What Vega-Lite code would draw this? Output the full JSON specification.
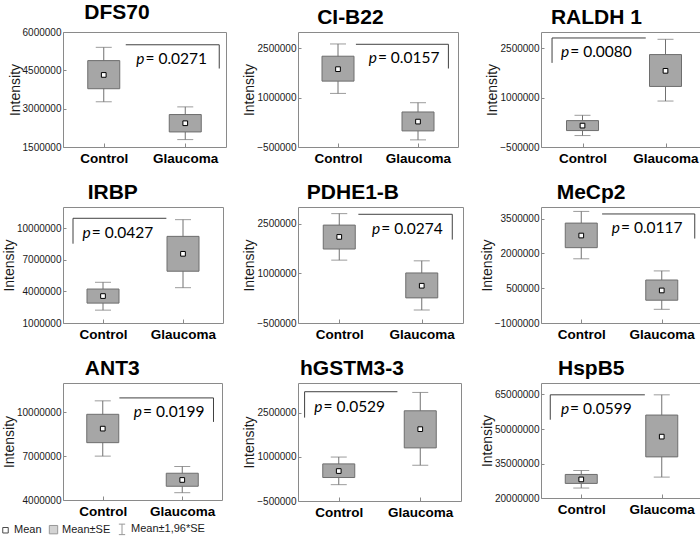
{
 "$schema": "https://vega.github.io/schema/vega-lite/v6.json",
 "background": "white",
 "padding": {"left": 0, "top": 1, "right": 1, "bottom": 1},
 "datasets": {
  "boxes": [
   {"protein": "DFS70", "group": "Control", "lo": 3270000, "q1": 3780000, "mean": 4320000, "q3": 4880000, "hi": 5400000},
   {"protein": "DFS70", "group": "Glaucoma", "lo": 1790000, "q1": 2090000, "mean": 2430000, "q3": 2770000, "hi": 3070000},
   {"protein": "CI-B22", "group": "Control", "lo": 1131000, "q1": 1505000, "mean": 1869000, "q3": 2263000, "hi": 2636000},
   {"protein": "CI-B22", "group": "Glaucoma", "lo": -283000, "q1": -10000, "mean": 273000, "q3": 566000, "hi": 848000},
   {"protein": "RALDH 1", "group": "Control", "lo": -152000, "q1": 0, "mean": 151000, "q3": 303000, "hi": 465000},
   {"protein": "RALDH 1", "group": "Glaucoma", "lo": 899000, "q1": 1343000, "mean": 1818000, "q3": 2313000, "hi": 2778000},
   {"protein": "IRBP", "group": "Control", "lo": 2220000, "q1": 2887000, "mean": 3555000, "q3": 4220000, "hi": 4860000},
   {"protein": "IRBP", "group": "Glaucoma", "lo": 4350000, "q1": 5910000, "mean": 7560000, "q3": 9215000, "hi": 10800000},
   {"protein": "PDHE1-B", "group": "Control", "lo": 1397000, "q1": 1732000, "mean": 2098000, "q3": 2454000, "hi": 2800000},
   {"protein": "PDHE1-B", "group": "Glaucoma", "lo": -108000, "q1": 258000, "mean": 624000, "q3": 1010000, "hi": 1376000},
   {"protein": "MeCp2", "group": "Control", "lo": 1768000, "q1": 2247000, "mean": 2770000, "q3": 3306000, "hi": 3810000},
   {"protein": "MeCp2", "group": "Glaucoma", "lo": -410000, "q1": -18000, "mean": 403000, "q3": 853000, "hi": 1245000},
   {"protein": "ANT3", "group": "Control", "lo": 7000000, "q1": 7920000, "mean": 8880000, "q3": 9860000, "hi": 10780000},
   {"protein": "ANT3", "group": "Glaucoma", "lo": 4500000, "q1": 4940000, "mean": 5370000, "q3": 5830000, "hi": 6290000},
   {"protein": "hGSTM3-3", "group": "Control", "lo": 54000, "q1": 296000, "mean": 515000, "q3": 758000, "hi": 990000},
   {"protein": "hGSTM3-3", "group": "Glaucoma", "lo": 712000, "q1": 1300000, "mean": 1935000, "q3": 2558000, "hi": 3180000},
   {"protein": "HspB5", "group": "Control", "lo": 24330000, "q1": 26350000, "mean": 28080000, "q3": 30240000, "hi": 31970000},
   {"protein": "HspB5", "group": "Glaucoma", "lo": 29090000, "q1": 37880000, "mean": 46680000, "q3": 56060000, "hi": 64860000}
  ],
  "ann": [
   {"protein": "DFS70", "x1": 0.27, "x2": 1.417, "xv": 1.417, "ytop": 5500000, "ybot": 4570000, "xb": 0.5, "yt": 4750000, "p": "= 0.0271"},
   {"protein": "CI-B22", "x1": 0.224, "x2": 1.38, "xv": 1.38, "ytop": 2626000, "ybot": 1889000, "xb": 0.486, "yt": 2060000, "p": "= 0.0157"},
   {"protein": "RALDH 1", "x1": -0.367, "x2": 0.762, "xv": -0.367, "ytop": 2818000, "ybot": 2060000, "xb": -0.16, "yt": 2240000, "p": "= 0.0080"},
   {"protein": "IRBP", "x1": -0.375, "x2": 0.792, "xv": -0.375, "ytop": 10930000, "ybot": 8520000, "xb": -0.154, "yt": 9090000, "p": "= 0.0427"},
   {"protein": "PDHE1-B", "x1": 0.232, "x2": 1.37, "xv": 1.37, "ytop": 2780000, "ybot": 2017000, "xb": 0.496, "yt": 2190000, "p": "= 0.0274"},
   {"protein": "MeCp2", "x1": 0.259, "x2": 1.41, "xv": 1.41, "ytop": 3700000, "ybot": 2640000, "xb": 0.481, "yt": 2885000, "p": "= 0.0117"},
   {"protein": "ANT3", "x1": 0.209, "x2": 1.393, "xv": 1.393, "ytop": 10980000, "ybot": 9340000, "xb": 0.494, "yt": 9680000, "p": "= 0.0199"},
   {"protein": "hGSTM3-3", "x1": -0.419, "x2": 0.72, "xv": -0.419, "ytop": 3204000, "ybot": 2327000, "xb": -0.199, "yt": 2523000, "p": "= 0.0529"},
   {"protein": "HspB5", "x1": -0.385, "x2": 0.79, "xv": -0.385, "ytop": 64860000, "ybot": 54040000, "xb": -0.151, "yt": 56490000, "p": "= 0.0599"}
  ]
 },
 "config": {
  "font": "Liberation Sans",
  "view": {"stroke": "#8a8a8a", "strokeWidth": 1},
  "axis": {"domain": false, "grid": false, "labelColor": "#1a1a1a", "tickColor": "#8a8a8a", "titleColor": "#1a1a1a"},
  "axisY": {"labelFontSize": 10, "labelOverlap": false, "tickCount": 10, "titleFontSize": 14, "titleFontWeight": "normal", "titlePadding": 0, "tickSize": -3, "labelPadding": 5},
  "axisX": {"labelFontSize": 13.5, "labelFontWeight": "bold", "labelColor": "#000", "tickSize": -4, "labelPadding": 8, "title": null, "labelAngle": 0},
  "title": {"fontSize": 21, "fontWeight": "bold", "frame": "bounds", "anchor": "middle", "offset": 0, "color": "#000"},
  "legend": {"orient": "none", "legendX": -63, "legendY": 491, "direction": "horizontal", "title": null, "labelFontSize": 11, "labelColor": "#1a1a1a", "symbolStrokeWidth": 1, "columnPadding": 5, "labelOffset": 3, "padding": 0}
 },
 "columns": 3,
 "spacing": {"row": 16, "column": 15},
 "concat": [
  {"title": "DFS70", "width": 163, "height": 115, "resolve": {"scale": {"x": "independent"}},
   "layer": [
    {"data": {"name": "boxes"}, "transform": [{"filter": "datum.protein === 'DFS70'"}],
     "encoding": {"x": {"field": "group", "type": "nominal", "scale": {"type": "point", "padding": 0.5, "domain": ["Control", "Glaucoma"]}}},
     "layer": [
      {"mark": {"type": "errorbar", "ticks": {"size": 16, "color": "#707070"}, "rule": {"color": "#707070"}},
       "encoding": {"y": {"field": "lo", "type": "quantitative", "title": "Intensity", "scale": {"domain": [1500000, 6000000], "nice": false, "zero": false}, "axis": {"values": [1500000, 3000000, 4500000, 6000000], "tickCount": 10, "format": "d"}}, "y2": {"field": "hi"}}},
      {"mark": {"type": "bar", "size": 32, "fill": "#a6a6a6", "stroke": "#6e6e6e", "strokeWidth": 1},
       "encoding": {"y": {"field": "q1", "type": "quantitative", "title": "Intensity"}, "y2": {"field": "q3"}}},
      {"mark": {"type": "point", "shape": "square", "size": 22, "filled": true, "fill": "white", "stroke": "#000", "strokeWidth": 1, "opacity": 1},
       "encoding": {"y": {"field": "mean", "type": "quantitative", "title": "Intensity"}}}
     ]},
    {"data": {"name": "ann"}, "transform": [{"filter": "datum.protein === 'DFS70'"}],
     "layer": [
      {"mark": {"type": "rule", "color": "#404040"}, "encoding": {"x": {"field": "x1", "type": "quantitative", "scale": {"domain": [-0.5, 1.5], "nice": false, "zero": false}, "axis": null}, "x2": {"field": "x2"}, "y": {"field": "ytop", "type": "quantitative", "title": "Intensity"}}},
      {"mark": {"type": "rule", "color": "#404040"}, "encoding": {"x": {"field": "xv", "type": "quantitative", "axis": null}, "y": {"field": "ytop", "type": "quantitative", "title": "Intensity"}, "y2": {"field": "ybot"}}},
      {"mark": {"type": "text", "font": "Lato", "fontSize": 15.5, "fontStyle": "italic", "align": "right", "baseline": "alphabetic"}, "encoding": {"x": {"field": "xb", "type": "quantitative", "axis": null}, "y": {"field": "yt", "type": "quantitative", "title": "Intensity"}, "text": {"value": "p"}}},
      {"mark": {"type": "text", "font": "Lato", "fontSize": 15.5, "align": "left", "baseline": "alphabetic", "dx": 1}, "encoding": {"x": {"field": "xb", "type": "quantitative", "axis": null}, "y": {"field": "yt", "type": "quantitative", "title": "Intensity"}, "text": {"field": "p"}}}
     ]}
   ]},
  {"title": "CI-B22", "width": 160, "height": 115, "resolve": {"scale": {"x": "independent"}},
   "layer": [
    {"data": {"name": "boxes"}, "transform": [{"filter": "datum.protein === 'CI-B22'"}],
     "encoding": {"x": {"field": "group", "type": "nominal", "scale": {"type": "point", "padding": 0.5, "domain": ["Control", "Glaucoma"]}}},
     "layer": [
      {"mark": {"type": "errorbar", "ticks": {"size": 16, "color": "#707070"}, "rule": {"color": "#707070"}},
       "encoding": {"y": {"field": "lo", "type": "quantitative", "title": "Intensity", "scale": {"domain": [-500000, 3000000], "nice": false, "zero": false}, "axis": {"values": [-500000, 1000000, 2500000], "tickCount": 10, "format": "d"}}, "y2": {"field": "hi"}}},
      {"mark": {"type": "bar", "size": 32, "fill": "#a6a6a6", "stroke": "#6e6e6e", "strokeWidth": 1},
       "encoding": {"y": {"field": "q1", "type": "quantitative", "title": "Intensity"}, "y2": {"field": "q3"}}},
      {"mark": {"type": "point", "shape": "square", "size": 22, "filled": true, "fill": "white", "stroke": "#000", "strokeWidth": 1, "opacity": 1},
       "encoding": {"y": {"field": "mean", "type": "quantitative", "title": "Intensity"}}}
     ]},
    {"data": {"name": "ann"}, "transform": [{"filter": "datum.protein === 'CI-B22'"}],
     "layer": [
      {"mark": {"type": "rule", "color": "#404040"}, "encoding": {"x": {"field": "x1", "type": "quantitative", "scale": {"domain": [-0.5, 1.5], "nice": false, "zero": false}, "axis": null}, "x2": {"field": "x2"}, "y": {"field": "ytop", "type": "quantitative", "title": "Intensity"}}},
      {"mark": {"type": "rule", "color": "#404040"}, "encoding": {"x": {"field": "xv", "type": "quantitative", "axis": null}, "y": {"field": "ytop", "type": "quantitative", "title": "Intensity"}, "y2": {"field": "ybot"}}},
      {"mark": {"type": "text", "font": "Lato", "fontSize": 15.5, "fontStyle": "italic", "align": "right", "baseline": "alphabetic"}, "encoding": {"x": {"field": "xb", "type": "quantitative", "axis": null}, "y": {"field": "yt", "type": "quantitative", "title": "Intensity"}, "text": {"value": "p"}}},
      {"mark": {"type": "text", "font": "Lato", "fontSize": 15.5, "align": "left", "baseline": "alphabetic", "dx": 1}, "encoding": {"x": {"field": "xb", "type": "quantitative", "axis": null}, "y": {"field": "yt", "type": "quantitative", "title": "Intensity"}, "text": {"field": "p"}}}
     ]}
   ]},
  {"title": "RALDH 1", "width": 166, "height": 115, "resolve": {"scale": {"x": "independent"}},
   "layer": [
    {"data": {"name": "boxes"}, "transform": [{"filter": "datum.protein === 'RALDH 1'"}],
     "encoding": {"x": {"field": "group", "type": "nominal", "scale": {"type": "point", "padding": 0.5, "domain": ["Control", "Glaucoma"]}}},
     "layer": [
      {"mark": {"type": "errorbar", "ticks": {"size": 16, "color": "#707070"}, "rule": {"color": "#707070"}},
       "encoding": {"y": {"field": "lo", "type": "quantitative", "title": "Intensity", "scale": {"domain": [-500000, 3000000], "nice": false, "zero": false}, "axis": {"values": [-500000, 1000000, 2500000], "tickCount": 10, "format": "d"}}, "y2": {"field": "hi"}}},
      {"mark": {"type": "bar", "size": 32, "fill": "#a6a6a6", "stroke": "#6e6e6e", "strokeWidth": 1},
       "encoding": {"y": {"field": "q1", "type": "quantitative", "title": "Intensity"}, "y2": {"field": "q3"}}},
      {"mark": {"type": "point", "shape": "square", "size": 22, "filled": true, "fill": "white", "stroke": "#000", "strokeWidth": 1, "opacity": 1},
       "encoding": {"y": {"field": "mean", "type": "quantitative", "title": "Intensity"}}}
     ]},
    {"data": {"name": "ann"}, "transform": [{"filter": "datum.protein === 'RALDH 1'"}],
     "layer": [
      {"mark": {"type": "rule", "color": "#404040"}, "encoding": {"x": {"field": "x1", "type": "quantitative", "scale": {"domain": [-0.5, 1.5], "nice": false, "zero": false}, "axis": null}, "x2": {"field": "x2"}, "y": {"field": "ytop", "type": "quantitative", "title": "Intensity"}}},
      {"mark": {"type": "rule", "color": "#404040"}, "encoding": {"x": {"field": "xv", "type": "quantitative", "axis": null}, "y": {"field": "ytop", "type": "quantitative", "title": "Intensity"}, "y2": {"field": "ybot"}}},
      {"mark": {"type": "text", "font": "Lato", "fontSize": 15.5, "fontStyle": "italic", "align": "right", "baseline": "alphabetic"}, "encoding": {"x": {"field": "xb", "type": "quantitative", "axis": null}, "y": {"field": "yt", "type": "quantitative", "title": "Intensity"}, "text": {"value": "p"}}},
      {"mark": {"type": "text", "font": "Lato", "fontSize": 15.5, "align": "left", "baseline": "alphabetic", "dx": 1}, "encoding": {"x": {"field": "xb", "type": "quantitative", "axis": null}, "y": {"field": "yt", "type": "quantitative", "title": "Intensity"}, "text": {"field": "p"}}}
     ]}
   ]},
  {"title": "IRBP", "width": 160, "height": 116, "resolve": {"scale": {"x": "independent"}},
   "layer": [
    {"data": {"name": "boxes"}, "transform": [{"filter": "datum.protein === 'IRBP'"}],
     "encoding": {"x": {"field": "group", "type": "nominal", "scale": {"type": "point", "padding": 0.5, "domain": ["Control", "Glaucoma"]}}},
     "layer": [
      {"mark": {"type": "errorbar", "ticks": {"size": 16, "color": "#707070"}, "rule": {"color": "#707070"}},
       "encoding": {"y": {"field": "lo", "type": "quantitative", "title": "Intensity", "scale": {"domain": [1000000, 12000000], "nice": false, "zero": false}, "axis": {"values": [1000000, 4000000, 7000000, 10000000], "tickCount": 10, "format": "d"}}, "y2": {"field": "hi"}}},
      {"mark": {"type": "bar", "size": 32, "fill": "#a6a6a6", "stroke": "#6e6e6e", "strokeWidth": 1},
       "encoding": {"y": {"field": "q1", "type": "quantitative", "title": "Intensity"}, "y2": {"field": "q3"}}},
      {"mark": {"type": "point", "shape": "square", "size": 22, "filled": true, "fill": "white", "stroke": "#000", "strokeWidth": 1, "opacity": 1},
       "encoding": {"y": {"field": "mean", "type": "quantitative", "title": "Intensity"}}}
     ]},
    {"data": {"name": "ann"}, "transform": [{"filter": "datum.protein === 'IRBP'"}],
     "layer": [
      {"mark": {"type": "rule", "color": "#404040"}, "encoding": {"x": {"field": "x1", "type": "quantitative", "scale": {"domain": [-0.5, 1.5], "nice": false, "zero": false}, "axis": null}, "x2": {"field": "x2"}, "y": {"field": "ytop", "type": "quantitative", "title": "Intensity"}}},
      {"mark": {"type": "rule", "color": "#404040"}, "encoding": {"x": {"field": "xv", "type": "quantitative", "axis": null}, "y": {"field": "ytop", "type": "quantitative", "title": "Intensity"}, "y2": {"field": "ybot"}}},
      {"mark": {"type": "text", "font": "Lato", "fontSize": 15.5, "fontStyle": "italic", "align": "right", "baseline": "alphabetic"}, "encoding": {"x": {"field": "xb", "type": "quantitative", "axis": null}, "y": {"field": "yt", "type": "quantitative", "title": "Intensity"}, "text": {"value": "p"}}},
      {"mark": {"type": "text", "font": "Lato", "fontSize": 15.5, "align": "left", "baseline": "alphabetic", "dx": 1}, "encoding": {"x": {"field": "xb", "type": "quantitative", "axis": null}, "y": {"field": "yt", "type": "quantitative", "title": "Intensity"}, "text": {"field": "p"}}}
     ]}
   ]},
  {"title": "PDHE1-B", "width": 165, "height": 116, "resolve": {"scale": {"x": "independent"}},
   "layer": [
    {"data": {"name": "boxes"}, "transform": [{"filter": "datum.protein === 'PDHE1-B'"}],
     "encoding": {"x": {"field": "group", "type": "nominal", "scale": {"type": "point", "padding": 0.5, "domain": ["Control", "Glaucoma"]}}},
     "layer": [
      {"mark": {"type": "errorbar", "ticks": {"size": 16, "color": "#707070"}, "rule": {"color": "#707070"}},
       "encoding": {"y": {"field": "lo", "type": "quantitative", "title": "Intensity", "scale": {"domain": [-500000, 3000000], "nice": false, "zero": false}, "axis": {"values": [-500000, 1000000, 2500000], "tickCount": 10, "format": "d"}}, "y2": {"field": "hi"}}},
      {"mark": {"type": "bar", "size": 32, "fill": "#a6a6a6", "stroke": "#6e6e6e", "strokeWidth": 1},
       "encoding": {"y": {"field": "q1", "type": "quantitative", "title": "Intensity"}, "y2": {"field": "q3"}}},
      {"mark": {"type": "point", "shape": "square", "size": 22, "filled": true, "fill": "white", "stroke": "#000", "strokeWidth": 1, "opacity": 1},
       "encoding": {"y": {"field": "mean", "type": "quantitative", "title": "Intensity"}}}
     ]},
    {"data": {"name": "ann"}, "transform": [{"filter": "datum.protein === 'PDHE1-B'"}],
     "layer": [
      {"mark": {"type": "rule", "color": "#404040"}, "encoding": {"x": {"field": "x1", "type": "quantitative", "scale": {"domain": [-0.5, 1.5], "nice": false, "zero": false}, "axis": null}, "x2": {"field": "x2"}, "y": {"field": "ytop", "type": "quantitative", "title": "Intensity"}}},
      {"mark": {"type": "rule", "color": "#404040"}, "encoding": {"x": {"field": "xv", "type": "quantitative", "axis": null}, "y": {"field": "ytop", "type": "quantitative", "title": "Intensity"}, "y2": {"field": "ybot"}}},
      {"mark": {"type": "text", "font": "Lato", "fontSize": 15.5, "fontStyle": "italic", "align": "right", "baseline": "alphabetic"}, "encoding": {"x": {"field": "xb", "type": "quantitative", "axis": null}, "y": {"field": "yt", "type": "quantitative", "title": "Intensity"}, "text": {"value": "p"}}},
      {"mark": {"type": "text", "font": "Lato", "fontSize": 15.5, "align": "left", "baseline": "alphabetic", "dx": 1}, "encoding": {"x": {"field": "xb", "type": "quantitative", "axis": null}, "y": {"field": "yt", "type": "quantitative", "title": "Intensity"}, "text": {"field": "p"}}}
     ]}
   ]},
  {"title": "MeCp2", "width": 161, "height": 116, "resolve": {"scale": {"x": "independent"}},
   "layer": [
    {"data": {"name": "boxes"}, "transform": [{"filter": "datum.protein === 'MeCp2'"}],
     "encoding": {"x": {"field": "group", "type": "nominal", "scale": {"type": "point", "padding": 0.5, "domain": ["Control", "Glaucoma"]}}},
     "layer": [
      {"mark": {"type": "errorbar", "ticks": {"size": 16, "color": "#707070"}, "rule": {"color": "#707070"}},
       "encoding": {"y": {"field": "lo", "type": "quantitative", "title": "Intensity", "scale": {"domain": [-1000000, 4000000], "nice": false, "zero": false}, "axis": {"values": [-1000000, 500000, 2000000, 3500000], "tickCount": 10, "format": "d"}}, "y2": {"field": "hi"}}},
      {"mark": {"type": "bar", "size": 32, "fill": "#a6a6a6", "stroke": "#6e6e6e", "strokeWidth": 1},
       "encoding": {"y": {"field": "q1", "type": "quantitative", "title": "Intensity"}, "y2": {"field": "q3"}}},
      {"mark": {"type": "point", "shape": "square", "size": 22, "filled": true, "fill": "white", "stroke": "#000", "strokeWidth": 1, "opacity": 1},
       "encoding": {"y": {"field": "mean", "type": "quantitative", "title": "Intensity"}}}
     ]},
    {"data": {"name": "ann"}, "transform": [{"filter": "datum.protein === 'MeCp2'"}],
     "layer": [
      {"mark": {"type": "rule", "color": "#404040"}, "encoding": {"x": {"field": "x1", "type": "quantitative", "scale": {"domain": [-0.5, 1.5], "nice": false, "zero": false}, "axis": null}, "x2": {"field": "x2"}, "y": {"field": "ytop", "type": "quantitative", "title": "Intensity"}}},
      {"mark": {"type": "rule", "color": "#404040"}, "encoding": {"x": {"field": "xv", "type": "quantitative", "axis": null}, "y": {"field": "ytop", "type": "quantitative", "title": "Intensity"}, "y2": {"field": "ybot"}}},
      {"mark": {"type": "text", "font": "Lato", "fontSize": 15.5, "fontStyle": "italic", "align": "right", "baseline": "alphabetic"}, "encoding": {"x": {"field": "xb", "type": "quantitative", "axis": null}, "y": {"field": "yt", "type": "quantitative", "title": "Intensity"}, "text": {"value": "p"}}},
      {"mark": {"type": "text", "font": "Lato", "fontSize": 15.5, "align": "left", "baseline": "alphabetic", "dx": 1}, "encoding": {"x": {"field": "xb", "type": "quantitative", "axis": null}, "y": {"field": "yt", "type": "quantitative", "title": "Intensity"}, "text": {"field": "p"}}}
     ]}
   ]},
  {"title": "ANT3", "width": 159, "height": 117, "resolve": {"scale": {"x": "independent"}},
   "layer": [
    {"data": {"name": "boxes"}, "transform": [{"filter": "datum.protein === 'ANT3'"}],
     "encoding": {"x": {"field": "group", "type": "nominal", "scale": {"type": "point", "padding": 0.5, "domain": ["Control", "Glaucoma"]}}},
     "layer": [
      {"mark": {"type": "errorbar", "ticks": {"size": 16, "color": "#707070"}, "rule": {"color": "#707070"}},
       "encoding": {"y": {"field": "lo", "type": "quantitative", "title": "Intensity", "scale": {"domain": [4000000, 12000000], "nice": false, "zero": false}, "axis": {"values": [4000000, 7000000, 10000000], "tickCount": 10, "format": "d"}}, "y2": {"field": "hi"}}},
      {"mark": {"type": "bar", "size": 32, "fill": "#a6a6a6", "stroke": "#6e6e6e", "strokeWidth": 1},
       "encoding": {"y": {"field": "q1", "type": "quantitative", "title": "Intensity"}, "y2": {"field": "q3"}}},
      {"mark": {"type": "point", "shape": "square", "size": 22, "filled": true, "fill": "white", "stroke": "#000", "strokeWidth": 1, "opacity": 1},
       "encoding": {"y": {"field": "mean", "type": "quantitative", "title": "Intensity"}}}
     ]},
    {"data": {"name": "ann"}, "transform": [{"filter": "datum.protein === 'ANT3'"}],
     "layer": [
      {"mark": {"type": "rule", "color": "#404040"}, "encoding": {"x": {"field": "x1", "type": "quantitative", "scale": {"domain": [-0.5, 1.5], "nice": false, "zero": false}, "axis": null}, "x2": {"field": "x2"}, "y": {"field": "ytop", "type": "quantitative", "title": "Intensity"}}},
      {"mark": {"type": "rule", "color": "#404040"}, "encoding": {"x": {"field": "xv", "type": "quantitative", "axis": null}, "y": {"field": "ytop", "type": "quantitative", "title": "Intensity"}, "y2": {"field": "ybot"}}},
      {"mark": {"type": "text", "font": "Lato", "fontSize": 15.5, "fontStyle": "italic", "align": "right", "baseline": "alphabetic"}, "encoding": {"x": {"field": "xb", "type": "quantitative", "axis": null}, "y": {"field": "yt", "type": "quantitative", "title": "Intensity"}, "text": {"value": "p"}}},
      {"mark": {"type": "text", "font": "Lato", "fontSize": 15.5, "align": "left", "baseline": "alphabetic", "dx": 1}, "encoding": {"x": {"field": "xb", "type": "quantitative", "axis": null}, "y": {"field": "yt", "type": "quantitative", "title": "Intensity"}, "text": {"field": "p"}}}
     ]},
    {"data": {"values": [{"item": "Mean"}, {"item": "Mean±SE"}, {"item": "Mean±1,96*SE"}]}, "transform": [{"filter": "false"}],
     "mark": {"type": "point", "filled": false, "strokeWidth": 1},
     "encoding": {
      "shape": {"field": "item", "type": "nominal", "scale": {"domain": ["Mean", "Mean±SE", "Mean±1,96*SE"], "range": ["square", "square", "M-0.6,-1H0.6M0,-1V1M-0.6,1H0.6"]}, "legend": {"title": null}},
      "fill": {"field": "item", "type": "nominal", "scale": {"domain": ["Mean", "Mean±SE", "Mean±1,96*SE"], "range": ["white", "#a6a6a6", "transparent"]}, "legend": {"title": null}},
      "stroke": {"field": "item", "type": "nominal", "scale": {"domain": ["Mean", "Mean±SE", "Mean±1,96*SE"], "range": ["#000", "#6e6e6e", "#6e6e6e"]}, "legend": {"title": null}},
      "size": {"field": "item", "type": "nominal", "scale": {"domain": ["Mean", "Mean±SE", "Mean±1,96*SE"], "range": [30, 110, 110]}, "legend": {"title": null}}
     }}
   ]},
  {"title": "hGSTM3-3", "width": 163, "height": 118, "resolve": {"scale": {"x": "independent"}},
   "layer": [
    {"data": {"name": "boxes"}, "transform": [{"filter": "datum.protein === 'hGSTM3-3'"}],
     "encoding": {"x": {"field": "group", "type": "nominal", "scale": {"type": "point", "padding": 0.5, "domain": ["Control", "Glaucoma"]}}},
     "layer": [
      {"mark": {"type": "errorbar", "ticks": {"size": 16, "color": "#707070"}, "rule": {"color": "#707070"}},
       "encoding": {"y": {"field": "lo", "type": "quantitative", "title": "Intensity", "scale": {"domain": [-500000, 3500000], "nice": false, "zero": false}, "axis": {"values": [-500000, 1000000, 2500000], "tickCount": 10, "format": "d"}}, "y2": {"field": "hi"}}},
      {"mark": {"type": "bar", "size": 32, "fill": "#a6a6a6", "stroke": "#6e6e6e", "strokeWidth": 1},
       "encoding": {"y": {"field": "q1", "type": "quantitative", "title": "Intensity"}, "y2": {"field": "q3"}}},
      {"mark": {"type": "point", "shape": "square", "size": 22, "filled": true, "fill": "white", "stroke": "#000", "strokeWidth": 1, "opacity": 1},
       "encoding": {"y": {"field": "mean", "type": "quantitative", "title": "Intensity"}}}
     ]},
    {"data": {"name": "ann"}, "transform": [{"filter": "datum.protein === 'hGSTM3-3'"}],
     "layer": [
      {"mark": {"type": "rule", "color": "#404040"}, "encoding": {"x": {"field": "x1", "type": "quantitative", "scale": {"domain": [-0.5, 1.5], "nice": false, "zero": false}, "axis": null}, "x2": {"field": "x2"}, "y": {"field": "ytop", "type": "quantitative", "title": "Intensity"}}},
      {"mark": {"type": "rule", "color": "#404040"}, "encoding": {"x": {"field": "xv", "type": "quantitative", "axis": null}, "y": {"field": "ytop", "type": "quantitative", "title": "Intensity"}, "y2": {"field": "ybot"}}},
      {"mark": {"type": "text", "font": "Lato", "fontSize": 15.5, "fontStyle": "italic", "align": "right", "baseline": "alphabetic"}, "encoding": {"x": {"field": "xb", "type": "quantitative", "axis": null}, "y": {"field": "yt", "type": "quantitative", "title": "Intensity"}, "text": {"value": "p"}}},
      {"mark": {"type": "text", "font": "Lato", "fontSize": 15.5, "align": "left", "baseline": "alphabetic", "dx": 1}, "encoding": {"x": {"field": "xb", "type": "quantitative", "axis": null}, "y": {"field": "yt", "type": "quantitative", "title": "Intensity"}, "text": {"field": "p"}}}
     ]}
   ]},
  {"title": "HspB5", "width": 161, "height": 115, "resolve": {"scale": {"x": "independent"}},
   "layer": [
    {"data": {"name": "boxes"}, "transform": [{"filter": "datum.protein === 'HspB5'"}],
     "encoding": {"x": {"field": "group", "type": "nominal", "scale": {"type": "point", "padding": 0.5, "domain": ["Control", "Glaucoma"]}}},
     "layer": [
      {"mark": {"type": "errorbar", "ticks": {"size": 16, "color": "#707070"}, "rule": {"color": "#707070"}},
       "encoding": {"y": {"field": "lo", "type": "quantitative", "title": "Intensity", "scale": {"domain": [20000000, 70000000], "nice": false, "zero": false}, "axis": {"values": [20000000, 35000000, 50000000, 65000000], "tickCount": 10, "format": "d"}}, "y2": {"field": "hi"}}},
      {"mark": {"type": "bar", "size": 32, "fill": "#a6a6a6", "stroke": "#6e6e6e", "strokeWidth": 1},
       "encoding": {"y": {"field": "q1", "type": "quantitative", "title": "Intensity"}, "y2": {"field": "q3"}}},
      {"mark": {"type": "point", "shape": "square", "size": 22, "filled": true, "fill": "white", "stroke": "#000", "strokeWidth": 1, "opacity": 1},
       "encoding": {"y": {"field": "mean", "type": "quantitative", "title": "Intensity"}}}
     ]},
    {"data": {"name": "ann"}, "transform": [{"filter": "datum.protein === 'HspB5'"}],
     "layer": [
      {"mark": {"type": "rule", "color": "#404040"}, "encoding": {"x": {"field": "x1", "type": "quantitative", "scale": {"domain": [-0.5, 1.5], "nice": false, "zero": false}, "axis": null}, "x2": {"field": "x2"}, "y": {"field": "ytop", "type": "quantitative", "title": "Intensity"}}},
      {"mark": {"type": "rule", "color": "#404040"}, "encoding": {"x": {"field": "xv", "type": "quantitative", "axis": null}, "y": {"field": "ytop", "type": "quantitative", "title": "Intensity"}, "y2": {"field": "ybot"}}},
      {"mark": {"type": "text", "font": "Lato", "fontSize": 15.5, "fontStyle": "italic", "align": "right", "baseline": "alphabetic"}, "encoding": {"x": {"field": "xb", "type": "quantitative", "axis": null}, "y": {"field": "yt", "type": "quantitative", "title": "Intensity"}, "text": {"value": "p"}}},
      {"mark": {"type": "text", "font": "Lato", "fontSize": 15.5, "align": "left", "baseline": "alphabetic", "dx": 1}, "encoding": {"x": {"field": "xb", "type": "quantitative", "axis": null}, "y": {"field": "yt", "type": "quantitative", "title": "Intensity"}, "text": {"field": "p"}}}
     ]}
   ]}
 ]
}
